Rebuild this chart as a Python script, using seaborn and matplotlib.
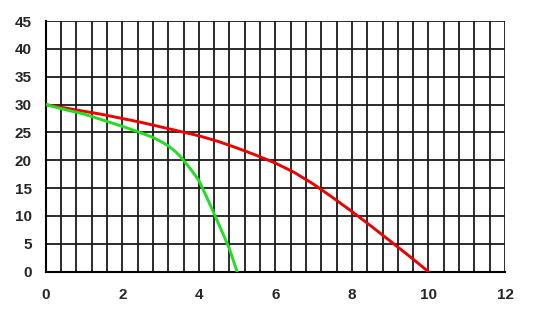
import numpy as np
import pandas as pd
import matplotlib
matplotlib.use("Agg")
import matplotlib.pyplot as plt
import seaborn as sns

# Data
red_x = [0, 0.5, 1, 1.5, 2, 2.5, 3, 3.5, 4, 4.5, 5, 5.5, 6, 6.5, 7, 7.5, 8, 8.5, 9, 9.5, 10]
red_y = [30, 29.4, 28.8, 28.2, 27.5, 26.8, 26.0, 25.2, 24.4, 23.4, 22.2, 20.9, 19.5, 17.8,
         15.7, 13.3, 10.8, 8.2, 5.5, 2.8, 0]
green_x = [0, 0.5, 1, 1.5, 2, 2.5, 2.8, 3.0, 3.2, 3.4, 3.5, 3.6, 3.8, 4.0, 4.2, 4.4, 4.6, 4.8, 5.0]
green_y = [30, 29.1, 28.3, 27.2, 26.1, 24.9, 24.1, 23.4, 22.6, 21.5, 20.8, 20.0, 18.3, 16.4,
           13.5, 10.4, 7.3, 4.1, 0]

x_ticks = [0, 2, 4, 6, 8, 10, 12]
y_ticks = [0, 5, 10, 15, 20, 25, 30, 35, 40, 45]

sns.set_style("white")
plt.rcParams['font.family'] = ['Liberation Sans', 'DejaVu Sans']

fig = plt.figure(figsize=(5.52, 3.16), dpi=100)
ax = fig.add_axes([0.0828, 0.1402, 0.9149 - 0.0828, 0.9335 - 0.1402])

df = pd.concat([
    pd.DataFrame({"x": red_x, "y": red_y, "s": "red"}),
    pd.DataFrame({"x": green_x, "y": green_y, "s": "green"}),
])

# grid
for gx in np.arange(0.4, 12.01, 0.4):
    ax.axvline(gx, color="#1a1a1a", lw=1.3, zorder=1)
for gy in y_ticks[1:]:
    ax.axhline(gy, color="#1a1a1a", lw=1.3, zorder=1)

sns.lineplot(data=df, x="x", y="y", hue="s", palette={"red": "#EE0000", "green": "#22DD22"},
             sort=False, estimator=None, lw=2.1, legend=False, ax=ax, zorder=3)
for ln in ax.get_lines():
    ln.set_solid_joinstyle("round")

ax.set_xlim(0, 12)
ax.set_ylim(0, 45)
ax.set_xticks(x_ticks)
ax.set_yticks(y_ticks)
ax.set_xticklabels([str(v) for v in x_ticks], fontsize=11, fontweight="bold")
ax.set_yticklabels([str(v) for v in y_ticks], fontsize=11, fontweight="bold")
ax.tick_params(axis="x", direction="out", length=3.5, width=1.2, pad=8, color="black")
ax.tick_params(axis="y", direction="out", length=4, width=1.2, pad=6, color="black")
ax.set_xlabel("")
ax.set_ylabel("")
for s in ["top", "right"]:
    ax.spines[s].set_visible(False)
for s in ["left", "bottom"]:
    ax.spines[s].set_color("black")
    ax.spines[s].set_linewidth(1.5)

fig.savefig("out.png", dpi=100)
